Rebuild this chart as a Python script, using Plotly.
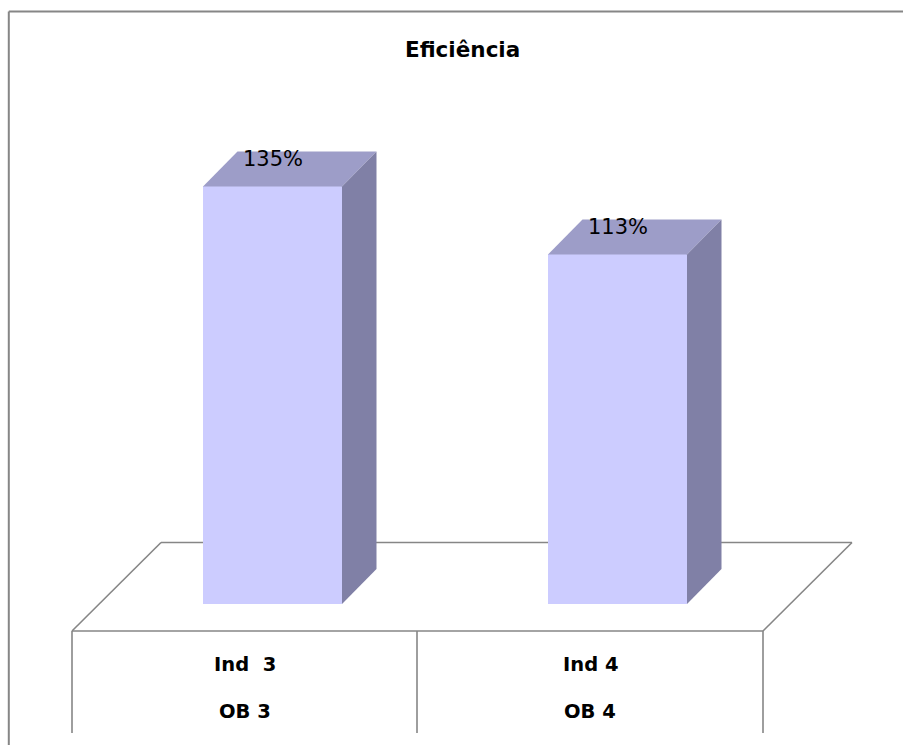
import plotly.graph_objects as go

# ---- data ----
categories_top = ["Ind  3", "Ind 4"]
categories_bottom = ["OB 3", "OB 4"]
values = [135, 113]
value_labels = ["135%", "113%"]
title_text = "Eficiência"

# ---- layout constants ----
W, H = 903, 745
PX_PER_CAT = 345.0          # pixels per category unit
PX_PER_VAL = 3.093          # pixels per percent
X0_PX = 272.5               # pixel x of category 0
Y0_PX = 604.0               # pixel y of value 0

BAR_W = 139 / PX_PER_CAT
DX = 34.5 / PX_PER_CAT
DY = 35 / PX_PER_VAL

FRONT = "#CCCCFF"
TOP = "#9D9DC8"
SIDE = "#8080A6"
LINE = "#868686"

xr = [(0 - X0_PX) / PX_PER_CAT, (W - X0_PX) / PX_PER_CAT]
yr = [(Y0_PX - H) / PX_PER_VAL, Y0_PX / PX_PER_VAL]


def px(x):
    return x / W


def py(y):
    return 1 - y / H


xs = list(range(len(values)))

fig = go.Figure()

# front faces
fig.add_trace(go.Bar(x=xs, y=values, width=BAR_W, marker=dict(color=FRONT, line=dict(width=0)),
                     hoverinfo="skip", showlegend=False))

# top and side faces
for i, v in zip(xs, values):
    l, r = i - BAR_W / 2, i + BAR_W / 2
    fig.add_trace(go.Scatter(
        x=[l, r, r + DX, l + DX, l], y=[v, v, v + DY, v + DY, v],
        fill="toself", fillcolor=TOP, mode="lines", line=dict(width=0, color=TOP),
        hoverinfo="skip", showlegend=False))
    fig.add_trace(go.Scatter(
        x=[r, r + DX, r + DX, r, r], y=[0, DY, v + DY, v, 0],
        fill="toself", fillcolor=SIDE, mode="lines", line=dict(width=0, color=SIDE),
        hoverinfo="skip", showlegend=False))

# value labels
annotations = []
for i, v, t in zip(xs, values, value_labels):
    annotations.append(dict(x=i, y=v + 27.5 / PX_PER_VAL, xref="x", yref="y", text=t,
                            showarrow=False, xanchor="center", yanchor="middle",
                            font=dict(family="DejaVu Sans", size=21, color="black")))

# category labels in table cells
cell_edges = [72, 417, 763]
for k in range(len(values)):
    cx = (cell_edges[k] + cell_edges[k + 1]) / 2
    annotations.append(dict(x=px(cx), y=py(664.5), xref="paper", yref="paper",
                            text="<b>%s</b>" % categories_top[k].replace("  ", "&nbsp; "),
                            showarrow=False, xanchor="center", yanchor="middle",
                            font=dict(family="DejaVu Sans", size=19.5, color="black")))
    annotations.append(dict(x=px(cx), y=py(711), xref="paper", yref="paper",
                            text="<b>%s</b>" % categories_bottom[k],
                            showarrow=False, xanchor="center", yanchor="middle",
                            font=dict(family="DejaVu Sans", size=19.5, color="black")))

# title
annotations.append(dict(x=px(462.5), y=py(49), xref="paper", yref="paper",
                        text="<b>%s</b>" % title_text, showarrow=False,
                        xanchor="center", yanchor="middle",
                        font=dict(family="DejaVu Sans", size=21.5, color="black")))

shapes = []


def seg(x1, y1, x2, y2, w=1.6):
    shapes.append(dict(type="line", xref="paper", yref="paper",
                       x0=px(x1), y0=py(y1), x1=px(x2), y1=py(y2),
                       line=dict(color=LINE, width=w), layer="below"))


# outer frame (left and top)
seg(8.8, 11.6, 8.8, H + 2, 2)
seg(8.8, 11.6, W + 2, 11.6, 2)
# floor
seg(161, 542.5, 852, 542.5)
seg(161, 542.5, 72, 631)
seg(852, 542.5, 763, 631)
seg(72, 631, 763, 631)
# table verticals
for xe in cell_edges:
    seg(xe, 631, xe, 733)

fig.update_layout(
    width=W, height=H, margin=dict(l=0, r=0, t=0, b=0),
    paper_bgcolor="white", plot_bgcolor="rgba(0,0,0,0)",
    xaxis=dict(range=xr, visible=False, fixedrange=True),
    yaxis=dict(range=yr, visible=False, fixedrange=True),
    annotations=annotations, shapes=shapes, showlegend=False, bargap=0,
)

fig.write_html("out.html", config={"displayModeBar": False})
